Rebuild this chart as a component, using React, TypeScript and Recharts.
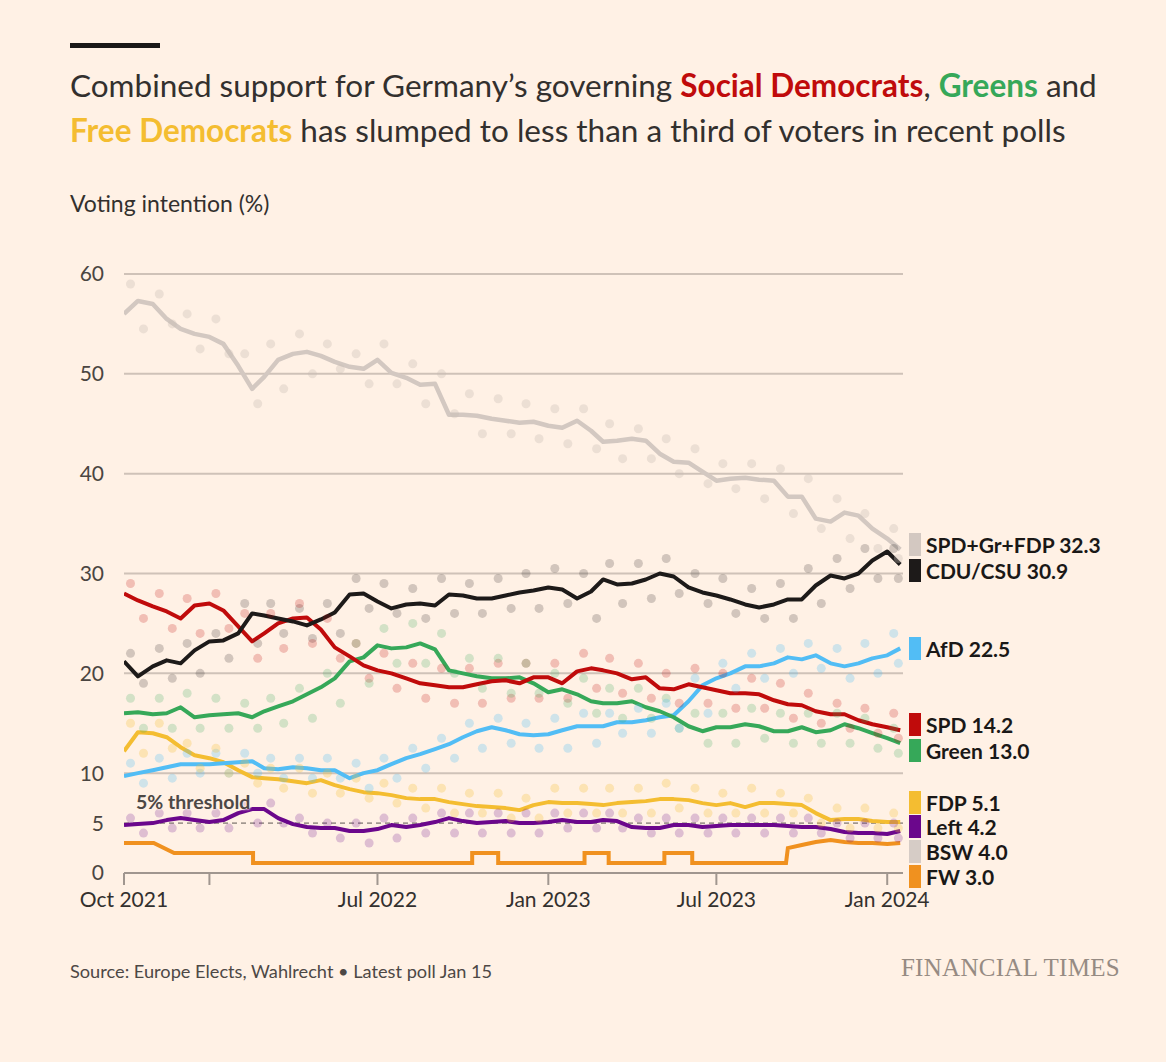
import React from "react";
import { ComposedChart, Line, Scatter, XAxis, YAxis, CartesianGrid, ReferenceLine } from "recharts";

// poll-of-polls averages, read every half month
const dates = [
  "2021-10-01", "2021-10-16", "2021-11-01", "2021-11-16", "2021-12-01", "2021-12-16",
  "2022-01-01", "2022-01-16", "2022-02-01", "2022-02-16", "2022-03-01", "2022-03-16",
  "2022-04-01", "2022-04-16", "2022-05-01", "2022-05-16", "2022-06-01", "2022-06-16",
  "2022-07-01", "2022-07-16", "2022-08-01", "2022-08-16", "2022-09-01", "2022-09-16",
  "2022-10-01", "2022-10-16", "2022-11-01", "2022-11-16", "2022-12-01", "2022-12-16",
  "2023-01-01", "2023-01-16", "2023-02-01", "2023-02-16", "2023-03-01", "2023-03-16",
  "2023-04-01", "2023-04-16", "2023-05-01", "2023-05-16", "2023-06-01", "2023-06-16",
  "2023-07-01", "2023-07-16", "2023-08-01", "2023-08-16", "2023-09-01", "2023-09-16",
  "2023-10-01", "2023-10-16", "2023-11-01", "2023-11-16", "2023-12-01", "2023-12-16",
  "2024-01-01", "2024-01-15",
];

const coalition = [
  56.0, 57.3, 57.0, 55.5, 54.5, 54.0,
  53.7, 53.0, 50.8, 48.5, 49.7, 51.4, 52.0, 52.2, 51.8, 51.2, 50.7, 50.5, 51.4, 50.1, 49.6, 48.9, 49.0, 45.9, 45.9, 45.8, 45.5, 45.3, 45.1, 45.2,
  44.8, 44.6, 45.3, 44.3, 43.2, 43.3, 43.5, 43.3, 42.0, 41.2, 41.1, 40.2, 39.3, 39.5, 39.6, 39.4, 39.3, 37.7, 37.7, 35.5, 35.2, 36.1, 35.8, 34.5,
  33.5, 32.4,
];
const cduCsu = [
  21.2, 19.7, 20.7, 21.3, 21.0, 22.3,
  23.2, 23.3, 24.0, 26.0, 25.8, 25.5, 25.2, 24.8, 25.4, 26.1, 27.9, 28.0, 27.2, 26.5, 26.9, 27.0, 26.8, 27.9, 27.8, 27.5, 27.5, 27.8, 28.1, 28.3,
  28.6, 28.4, 27.5, 28.2, 29.4, 28.9, 29.0, 29.4, 30.0, 29.7, 28.6, 28.1, 27.8, 27.4, 26.9, 26.6, 26.9, 27.4, 27.4, 28.8, 29.8, 29.5, 30.0, 31.3,
  32.2, 30.9,
];
const spd = [
  28.0, 27.3, 26.7, 26.2, 25.5, 26.8,
  27.0, 26.3, 24.7, 23.2, 24.0, 25.0, 25.5, 25.6, 24.4, 22.6, 21.7, 20.8, 20.3, 20.0, 19.5, 19.0, 18.8, 18.6, 18.6, 18.9, 19.2, 19.3, 19.0, 19.6,
  19.6, 19.0, 20.2, 20.5, 20.3, 20.0, 19.4, 19.6, 18.5, 18.4, 18.9, 18.6, 18.3, 18.0, 18.0, 17.9, 17.3, 16.9, 16.8, 16.2, 15.9, 15.9, 15.3, 14.9,
  14.6, 14.3,
];
const greens = [
  16.0, 16.1, 15.9, 16.0, 16.6, 15.6,
  15.8, 15.9, 16.0, 15.6, 16.2, 16.7, 17.2, 17.9, 18.6, 19.5, 21.2, 21.6, 22.8, 22.5, 22.6, 23.0, 22.4, 20.3, 20.0, 19.7, 19.5, 19.5, 19.6, 19.0,
  18.1, 18.4, 17.9, 17.2, 17.0, 17.0, 17.2, 16.6, 16.2, 15.6, 14.7, 14.2, 14.6, 14.6, 14.9, 14.7, 14.2, 14.2, 14.6, 14.1, 14.3, 14.9, 14.5, 14.0,
  13.5, 13.0,
];
const afd = [
  9.7, 10.0, 10.3, 10.6, 10.9, 10.9,
  10.9, 11.0, 11.1, 11.2, 10.5, 10.4, 10.6, 10.5, 10.3, 10.3, 9.5, 10.0, 10.3, 10.9, 11.5, 11.9, 12.4, 12.9, 13.6, 14.2, 14.6, 14.3, 13.9, 13.8,
  13.9, 14.3, 14.7, 14.7, 14.7, 15.1, 15.1, 15.3, 15.6, 15.8, 17.2, 18.8, 19.5, 20.0, 20.7, 20.7, 21.0, 21.6, 21.4, 21.8, 21.0, 20.7, 21.0, 21.5,
  21.8, 22.5,
];
const fdp = [
  12.2, 14.1, 14.0, 13.6, 12.6, 11.8,
  11.5, 11.1, 10.3, 9.6, 9.5, 9.4, 9.2, 9.0, 9.3, 8.8, 8.4, 8.1, 8.0, 7.8, 7.5, 7.4, 7.4, 7.1, 6.9, 6.7, 6.6, 6.5, 6.3, 6.8,
  7.1, 7.0, 7.0, 6.9, 6.8, 7.0, 7.1, 7.2, 7.4, 7.4, 7.3, 7.0, 6.8, 7.0, 6.6, 7.0, 7.0, 6.9, 6.8, 6.0, 5.3, 5.4, 5.4, 5.2,
  5.1, 5.1,
];
const left = [
  4.8, 4.9, 5.0, 5.3, 5.5, 5.3,
  5.1, 5.3, 6.0, 6.4, 6.4, 5.5, 4.9, 4.6, 4.5, 4.5, 4.2, 4.2, 4.4, 4.8, 4.6, 4.8, 5.1, 5.5, 5.2, 5.0, 5.1, 5.2, 5.0, 5.0,
  5.1, 5.3, 5.1, 5.1, 5.3, 5.2, 4.6, 4.5, 4.5, 4.8, 4.8, 4.6, 4.7, 4.8, 4.8, 4.8, 4.8, 4.7, 4.6, 4.6, 4.4, 4.1, 4.0, 4.0,
  3.9, 4.2,
];

// Free Voters move in steps, so they get their own dates
const fwDates = [
  "2021-10-01", "2021-11-02", "2021-11-24", "2022-02-17", "2022-02-17",
  "2022-10-11", "2022-10-11", "2022-11-08", "2022-11-08",
  "2023-02-09", "2023-02-09", "2023-03-07", "2023-03-07",
  "2023-05-06", "2023-05-06", "2023-06-05", "2023-06-05",
  "2023-09-14", "2023-09-16", "2023-10-01", "2023-10-16", "2023-11-01",
  "2023-11-16", "2023-12-01", "2023-12-16", "2024-01-01", "2024-01-15",
];
const fwValues = [
  3.0, 3.0, 2.0, 2.0, 1.0,
  1.0, 2.0, 2.0, 1.0,
  1.0, 2.0, 2.0, 1.0,
  1.0, 2.0, 2.0, 1.0,
  1.0, 2.5, 2.8, 3.1, 3.3,
  3.1, 3.0, 3.0, 2.9, 3.0,
];

// individual polls: the high and low edge of each month's cloud of dots
const pollMonths = [
  "2021-10", "2021-11", "2021-12", "2022-01", "2022-02", "2022-03", "2022-04",
  "2022-05", "2022-06", "2022-07", "2022-08", "2022-09", "2022-10", "2022-11",
  "2022-12", "2023-01", "2023-02", "2023-03", "2023-04", "2023-05", "2023-06",
  "2023-07", "2023-08", "2023-09", "2023-10", "2023-11", "2023-12", "2024-01",
];
const coalitionHi = [59.0, 58.0, 56.0, 55.5, 52.0, 53.0, 54.0, 53.0, 52.0, 53.0, 51.0, 50.0, 48.0, 47.5, 47.0, 46.5, 46.5, 45.0, 44.5, 43.5, 42.5, 41.0, 41.0, 40.5, 39.5, 37.5, 36.0, 34.5];
const coalitionLo = [54.5, 55.0, 52.5, 52.0, 47.0, 48.5, 50.0, 50.5, 49.0, 49.0, 47.0, 46.0, 44.0, 44.0, 43.5, 43.0, 42.5, 41.5, 41.5, 40.0, 39.0, 38.5, 37.5, 36.0, 34.5, 33.5, 32.5, 31.5];
const cduHi = [22.0, 22.5, 23.0, 24.0, 27.0, 27.0, 26.5, 27.0, 29.5, 29.0, 28.5, 29.5, 29.0, 29.5, 30.0, 30.5, 30.0, 31.0, 31.0, 31.5, 30.0, 29.5, 28.5, 29.0, 30.5, 31.5, 32.5, 32.5];
const cduLo = [19.0, 19.5, 20.0, 21.5, 23.0, 24.0, 23.5, 24.0, 26.5, 26.0, 25.5, 26.0, 26.0, 26.5, 26.5, 27.0, 25.5, 27.0, 27.5, 28.0, 27.0, 26.0, 25.5, 25.5, 27.0, 28.5, 29.5, 29.5];
const spdHi = [29.0, 28.0, 27.5, 28.0, 26.0, 26.0, 27.0, 25.5, 23.0, 22.0, 21.0, 20.5, 20.5, 21.0, 21.0, 21.0, 22.0, 21.5, 21.0, 20.0, 20.5, 20.0, 19.5, 19.0, 18.0, 17.0, 16.5, 16.0];
const spdLo = [25.5, 24.5, 24.0, 24.5, 21.5, 22.5, 23.0, 21.5, 19.5, 18.5, 17.5, 17.0, 17.0, 17.5, 17.5, 17.5, 18.5, 18.0, 17.5, 17.0, 17.0, 16.5, 16.5, 15.5, 15.0, 14.5, 14.0, 13.5];
const greensHi = [17.5, 17.5, 18.0, 17.5, 17.0, 17.5, 18.5, 20.0, 23.0, 24.5, 25.0, 24.0, 21.5, 21.5, 21.0, 20.0, 19.5, 18.5, 18.5, 17.5, 16.0, 16.0, 16.5, 16.0, 16.0, 16.0, 15.5, 14.5];
const greensLo = [14.5, 14.5, 14.5, 14.5, 14.5, 15.0, 15.5, 17.0, 19.0, 21.0, 21.0, 20.0, 18.5, 18.0, 18.0, 17.0, 16.0, 15.5, 15.5, 14.5, 13.0, 13.0, 13.5, 13.0, 13.0, 13.0, 12.5, 12.0];
const afdHi = [11.0, 11.5, 12.0, 12.0, 12.0, 11.5, 11.5, 11.5, 11.0, 11.5, 12.5, 13.5, 15.0, 15.5, 15.0, 15.5, 16.0, 16.0, 16.5, 17.0, 19.5, 21.0, 22.0, 22.5, 23.0, 22.5, 23.0, 24.0];
const afdLo = [9.0, 9.5, 10.0, 10.0, 10.0, 9.5, 9.5, 9.5, 8.5, 9.5, 10.5, 11.5, 12.5, 13.0, 12.5, 12.5, 13.0, 14.0, 14.0, 14.5, 16.0, 18.5, 19.5, 20.0, 20.5, 19.5, 20.0, 21.0];
const fdpHi = [15.0, 15.0, 13.0, 12.5, 11.0, 10.5, 10.5, 10.0, 9.5, 9.0, 8.5, 8.5, 8.0, 8.0, 7.5, 8.5, 8.5, 8.5, 8.5, 9.0, 8.5, 8.0, 8.5, 8.0, 7.5, 6.5, 6.5, 6.0];
const fdpLo = [12.0, 12.5, 10.5, 10.0, 9.0, 8.5, 8.0, 8.0, 7.5, 7.0, 6.5, 6.0, 6.0, 5.5, 5.5, 6.0, 6.0, 6.0, 6.0, 6.5, 6.0, 6.0, 6.0, 6.0, 5.0, 4.5, 4.5, 4.5];
const leftHi = [5.5, 6.0, 6.0, 6.0, 7.0, 7.0, 5.5, 5.0, 5.0, 5.5, 5.5, 6.0, 6.0, 6.0, 6.0, 6.0, 6.0, 6.0, 5.5, 5.5, 5.5, 5.5, 5.5, 5.5, 5.5, 5.0, 5.0, 5.0];
const leftLo = [4.0, 4.5, 4.5, 4.5, 5.0, 5.0, 4.0, 3.5, 3.0, 3.5, 4.0, 4.0, 4.0, 4.0, 4.0, 4.5, 4.5, 4.5, 4.0, 4.0, 4.0, 4.0, 4.0, 4.0, 4.0, 3.5, 3.5, 3.5];

const tickDates = ["2021-10-01", "2022-01-01", "2022-07-01", "2023-01-01", "2023-07-01", "2024-01-01"];
const tickLabels = ["Oct 2021", "", "Jul 2022", "Jan 2023", "Jul 2023", "Jan 2024"];
const yTicks = [0, 5, 10, 20, 30, 40, 50, 60];
const gridValues = [10, 20, 30, 40, 50, 60];

const endNames = ["SPD+Gr+FDP", "CDU/CSU", "AfD", "SPD", "Green", "FDP", "Left", "BSW", "FW"];
const endValues = ["32.3", "30.9", "22.5", "14.2", "13.0", "5.1", "4.2", "4.0", "3.0"];

const PAPER = "#fff1e5";
const INK = "#33302e";
const FONT = "Lato, 'Noto Sans', sans-serif";
const C = {
  coalition: "#d3c8c1",
  cdu: "#1d1a19",
  afd: "#52bdf5",
  spd: "#c00b0b",
  greens: "#36a859",
  fdp: "#f4bd31",
  left: "#6b078c",
  bsw: "#d6ccc6",
  fw: "#f0911f",
};
const endColors = [C.coalition, C.cdu, C.afd, C.spd, C.greens, C.fdp, C.left, C.bsw, C.fw];
const endY = [544, 570, 648, 724, 750, 802, 826, 851, 876];

const t = (d: string) => Date.parse(d + "T00:00:00Z");

const data = dates.map((d, i) => ({
  t: t(d),
  coalition: coalition[i],
  cdu: cduCsu[i],
  spd: spd[i],
  greens: greens[i],
  afd: afd[i],
  fdp: fdp[i],
  left: left[i],
}));
const fwData = fwDates.map((d, i) => ({ t: t(d), v: fwValues[i] }));

const hiDates = pollMonths.map((m) => t(m + "-08"));
const loDates = pollMonths.map((m) => t(m === "2024-01" ? "2024-01-13" : m + "-22"));
const polls = (hi: number[], lo: number[]) => [
  ...hi.map((v, i) => ({ t: hiDates[i], v })),
  ...lo.map((v, i) => ({ t: loDates[i], v })),
];

export default function App() {
  const ticks = tickDates.map(t);
  const line = (key: string, color: string, w = 4) => (
    <Line
      key={key}
      type="linear"
      dataKey={key}
      stroke={color}
      strokeWidth={w}
      strokeLinejoin="round"
      dot={false}
      activeDot={false}
      isAnimationActive={false}
    />
  );
  const dots = (name: string, hi: number[], lo: number[], color: string, op = 0.22) => (
    <Scatter
      key={name}
      name={name}
      data={polls(hi, lo)}
      dataKey="v"
      isAnimationActive={false}
      shape={(p: any) => <circle cx={p.cx} cy={p.cy} r={4.5} fill={color} fillOpacity={op} />}
    />
  );

  return (
    <div style={{ position: "relative", width: 1166, height: 1062, background: PAPER, fontFamily: FONT, color: INK, overflow: "hidden" }}>
      <style>{"body{margin:0}"}</style>
      <div style={{ position: "absolute", left: 70, top: 43, width: 90, height: 5, background: "#1a1817" }} />
      <div style={{ position: "absolute", left: 70, top: 63, fontSize: 31.5, lineHeight: "45px", whiteSpace: "nowrap" }}>
        Combined support for Germany’s governing{" "}
        <span style={{ color: C.spd, fontWeight: 700 }}>Social Democrats</span>,{" "}
        <span style={{ color: C.greens, fontWeight: 700 }}>Greens</span> and
        <br />
        <span style={{ color: C.fdp, fontWeight: 700 }}>Free Democrats</span> has slumped to less than a third of voters in recent polls
      </div>
      <div style={{ position: "absolute", left: 70, top: 189, fontSize: 23 }}>Voting intention (%)</div>

      <div style={{ position: "absolute", left: 0, top: 0 }}>
        <ComposedChart width={1166} height={960} data={data} margin={{ top: 274, right: 263, bottom: 57, left: 84 }}>
          <CartesianGrid vertical={false} horizontalValues={gridValues} stroke="#cfc2b8" strokeWidth={2} />
          <XAxis
            type="number"
            dataKey="t"
            domain={[t("2021-10-01"), t("2024-01-18")]}
            ticks={ticks}
            interval={0}
            tickFormatter={(v: number) => tickLabels[ticks.indexOf(v)] ?? ""}
            axisLine={{ stroke: "#a0968f", strokeWidth: 2 }}
            tickLine={{ stroke: "#a0968f", strokeWidth: 2 }}
            tickSize={12}
            tickMargin={7}
            tick={{ fontSize: 21, fill: INK, fontFamily: FONT }}
            allowDataOverflow
          />
          <YAxis
            type="number"
            domain={[0, 60]}
            ticks={yTicks}
            interval={0}
            axisLine={false}
            tickLine={false}
            tickSize={0}
            tickMargin={20}
            width={40}
            tick={{ fontSize: 21, fill: "#4a4541", fontFamily: FONT }}
          />
          <ReferenceLine y={5} stroke="#5e5752" strokeWidth={1} strokeDasharray="5 4" />
          {dots("coalitionPolls", coalitionHi, coalitionLo, "#c9bcb4", 0.35)}
          {line("coalition", C.coalition, 4.5)}
          {dots("cduPolls", cduHi, cduLo, C.cdu, 0.2)}
          {dots("spdPolls", spdHi, spdLo, C.spd)}
          {dots("greensPolls", greensHi, greensLo, C.greens)}
          {dots("afdPolls", afdHi, afdLo, C.afd, 0.28)}
          {dots("fdpPolls", fdpHi, fdpLo, C.fdp, 0.28)}
          {dots("leftPolls", leftHi, leftLo, C.left)}
          <Line
            data={fwData}
            type="linear"
            dataKey="v"
            stroke={C.fw}
            strokeWidth={4}
            dot={false}
            activeDot={false}
            isAnimationActive={false}
          />
          {line("left", C.left)}
          {line("fdp", C.fdp)}
          {line("afd", C.afd)}
          {line("greens", C.greens)}
          {line("spd", C.spd)}
          {line("cdu", C.cdu)}
        </ComposedChart>
      </div>

      <div
        style={{
          position: "absolute", left: 136, top: 790, fontSize: 19.5, fontWeight: 700, color: "#4d4845",
          textShadow: `0 0 2px ${PAPER}, 0 0 2px ${PAPER}, 0 0 3px ${PAPER}`,
        }}
      >
        5% threshold
      </div>

      {endNames.map((n, i) => (
        <div key={n} style={{ position: "absolute", left: 909, top: endY[i] - 12, height: 24, display: "flex", alignItems: "center" }}>
          <div style={{ width: 12, height: 23, background: endColors[i], marginRight: 5 }} />
          <span style={{ fontSize: 21, fontWeight: 700, color: "#1a1817", whiteSpace: "nowrap" }}>
            {n} {endValues[i]}
          </span>
        </div>
      ))}

      <div style={{ position: "absolute", left: 70, top: 960, fontSize: 18.2, color: "#4d4845" }}>
        Source: Europe Elects, Wahlrecht • Latest poll Jan 15
      </div>
      <div
        style={{
          position: "absolute", right: 46, top: 954, fontSize: 25, color: "#968b83",
          fontFamily: "'Liberation Serif', 'DejaVu Serif', serif", letterSpacing: 0.3,
        }}
      >
        FINANCIAL TIMES
      </div>
    </div>
  );
}
